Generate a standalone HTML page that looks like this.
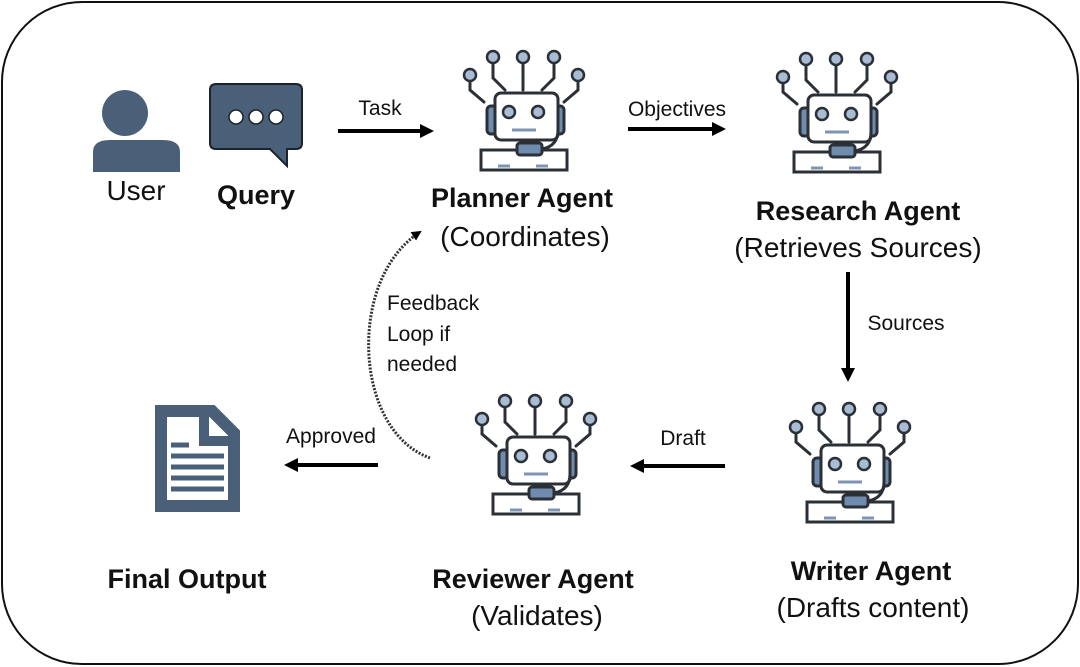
<!DOCTYPE html>
<html><head><meta charset="utf-8"><style>
body{margin:0;width:1080px;height:667px;background:#fff;overflow:hidden}
svg{display:block}
text{font-family:"Liberation Sans","DejaVu Sans",sans-serif;fill:#111}
.b{font-weight:bold;font-size:27px}
.n{font-size:28px}
.s{font-size:21px}
</style></head><body>
<svg width="1080" height="667" viewBox="0 0 1080 667">
<defs>
<marker id="ah" markerWidth="10" markerHeight="10" refX="8" refY="5" orient="auto" markerUnits="userSpaceOnUse"><path d="M0,0 L10,5 L0,10 z" fill="#000"/></marker>
<marker id="ah2" markerWidth="14" markerHeight="14" refX="8" refY="7" orient="auto" markerUnits="userSpaceOnUse"><path d="M0,0 L14,7 L0,14 z" fill="#000"/></marker>
<symbol id="robot" viewBox="0 0 150 140" width="150" height="140">
<g stroke="#2b2f36" stroke-width="3" fill="none" stroke-linecap="round">
<path d="M20,41 V50 L34,62"/><path d="M43,23 V38 L55,50"/><path d="M73,23 V50"/><path d="M104,23 V38 L92,50"/><path d="M128,41 V50 L114,62"/>
<rect x="37" y="66" width="10" height="28" rx="4" fill="#6f8cae"/>
<rect x="104" y="66" width="10" height="28" rx="4" fill="#6f8cae"/>
<rect x="45" y="53" width="63" height="47" rx="6" fill="#fff"/>
<path d="M108,90 Q108,106 92,109"/>
<path d="M67,110 H31 V130 H117 V110 H92" fill="#fff"/>
<rect x="67" y="103" width="25" height="12" rx="3" fill="#6f8cae"/>
</g>
<g fill="#a8bcd3" stroke="#2b2f36" stroke-width="2.5">
<circle cx="20" cy="35" r="6"/><circle cx="43" cy="17" r="6"/><circle cx="73" cy="17" r="6"/><circle cx="104" cy="17" r="6"/><circle cx="128" cy="35" r="6"/>
<circle cx="59" cy="72" r="6"/><circle cx="88" cy="72" r="6"/>
</g>
<g stroke="#7d95b3" stroke-width="3"><path d="M62,90 H86"/><path d="M48,126 H60"/><path d="M86,126 H98"/></g>
</symbol>
</defs>
<rect x="2" y="2" width="1076" height="662" rx="80" fill="#fff" stroke="#111" stroke-width="2"/>
<circle cx="125" cy="113" r="23" fill="#4a5f78"/>
<path d="M93,172 V152 Q93,140 110,140 H163 Q180,140 180,152 V172 Z" fill="#4a5f78"/>
<text x="136" y="200" text-anchor="middle" class="n">User</text>
<path d="M216,84 H296 Q302,84 302,90 V143 Q302,149 296,149 H287 V166 L270,149 H216 Q210,149 210,143 V90 Q210,84 216,84 Z" fill="#4a5f78" stroke="#1d232b" stroke-width="2"/>
<g fill="#fff" stroke="#1d232b" stroke-width="1.5"><circle cx="236" cy="117" r="7"/><circle cx="256" cy="117" r="7"/><circle cx="276" cy="117" r="7"/></g>
<text x="256" y="204" text-anchor="middle" class="b">Query</text>
<use href="#robot" x="450" y="40"/>
<use href="#robot" x="763" y="42"/>
<use href="#robot" x="462" y="384"/>
<use href="#robot" x="776" y="392"/>
<text x="522" y="207" text-anchor="middle" class="b">Planner Agent</text>
<text x="525" y="246" text-anchor="middle" class="n">(Coordinates)</text>
<text x="858" y="220" text-anchor="middle" class="b">Research Agent</text>
<text x="858" y="257" text-anchor="middle" class="n">(Retrieves Sources)</text>
<text x="871" y="580" text-anchor="middle" class="b">Writer Agent</text>
<text x="873" y="617" text-anchor="middle" class="n">(Drafts content)</text>
<text x="533" y="588" text-anchor="middle" class="b">Reviewer Agent</text>
<text x="537" y="625" text-anchor="middle" class="n">(Validates)</text>
<text x="187" y="588" text-anchor="middle" class="b">Final Output</text>
<path d="M161,411 H212 L234,433 V506 H161 Z" fill="none" stroke="#4a5f78" stroke-width="12" stroke-linejoin="miter"/>
<path d="M204,407 V441 H238" fill="none" stroke="#4a5f78" stroke-width="10"/>
<g stroke="#4a5f78" stroke-width="5"><path d="M171,445 H189"/><path d="M171,456 H224"/><path d="M171,467 H224"/><path d="M171,478 H224"/><path d="M171,489 H224"/></g>
<g stroke="#000" stroke-width="4" fill="none">
<path d="M338,131 H428" marker-end="url(#ah2)"/>
<path d="M628,129 H720" marker-end="url(#ah2)"/>
<path d="M848,272 V376" marker-end="url(#ah2)"/>
<path d="M725,466 H636" marker-end="url(#ah2)"/>
<path d="M378,465 H290" marker-end="url(#ah2)"/>
</g>
<path d="M430,458 C380,440 360,370 372,310 C380,270 400,245 420,232" stroke="#333" stroke-width="3" stroke-dasharray="2,1.5" fill="none" marker-end="url(#ah)"/>
<text x="380" y="115" text-anchor="middle" class="s">Task</text>
<text x="677" y="116" text-anchor="middle" class="s">Objectives</text>
<text x="906" y="330" text-anchor="middle" class="s">Sources</text>
<text x="683" y="445" text-anchor="middle" class="s">Draft</text>
<text x="331" y="443" text-anchor="middle" class="s">Approved</text>
<text x="387" y="310" class="s">Feedback</text>
<text x="387" y="341" class="s">Loop if</text>
<text x="387" y="371" class="s">needed</text>
</svg>
</body></html>
